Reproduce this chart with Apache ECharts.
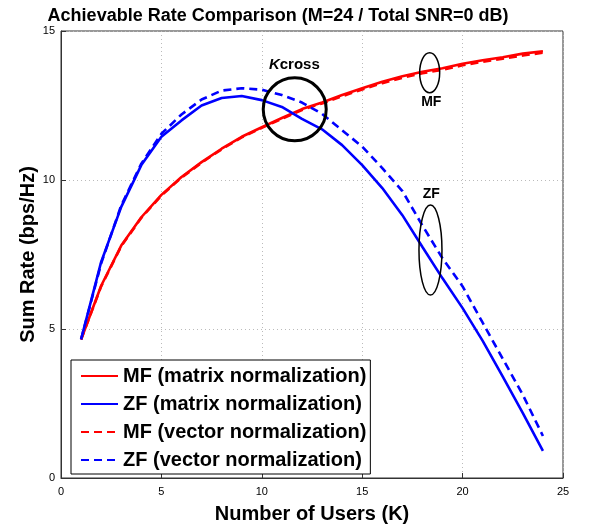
<!DOCTYPE html>
<html>
<head>
<meta charset="utf-8">
<script src="https://cdn.jsdelivr.net/npm/echarts@6/dist/echarts.min.js"></script>
<style>html,body{margin:0;padding:0;background:#fff;}#c{width:591px;height:529px;}</style>
</head>
<body>
<div id="c"></div>
<script>
const users = [1,2,3,4,5,6,7,8,9,10,11,12,13,14,15,16,17,18,19,20,21,22,23,24];
const mfMatrix = [4.65,6.45,7.8,8.75,9.5,10.1,10.6,11.05,11.45,11.77,12.08,12.38,12.6,12.85,13.08,13.3,13.48,13.63,13.75,13.9,14.02,14.12,14.24,14.32];
const zfMatrix = [4.65,7.25,9.1,10.5,11.45,12.0,12.5,12.75,12.82,12.68,12.45,12.05,11.7,11.17,10.5,9.73,8.82,7.75,6.7,5.7,4.6,3.4,2.18,0.91];
const mfVector = [4.65,6.43,7.78,8.73,9.48,10.08,10.58,11.03,11.43,11.75,12.05,12.35,12.57,12.81,13.04,13.25,13.43,13.58,13.7,13.85,13.97,14.07,14.18,14.27];
const zfVector = [4.65,7.2,9.15,10.55,11.55,12.2,12.7,13.0,13.08,13.03,12.85,12.6,12.22,11.67,11.12,10.4,9.63,8.47,7.37,6.43,5.21,4.0,2.79,1.41];
const xTicks = [0,5,10,15,20,25];
const yTicks = [0,5,10,15];
const seriesNames = ['MF (matrix normalization)','ZF (matrix normalization)','MF (vector normalization)','ZF (vector normalization)'];
// annotation anchors in data coordinates
const kcrossCenter = [11.64, 12.37];
const kcrossLabel = [11.62, 13.88];
const mfEllipse = [18.36, 13.6];
const mfLabel = [18.44, 12.62];
const zfEllipse = [18.4, 7.65];
const zfLabel = [18.44, 9.52];

const pairs = arr => users.map((u,i)=>[u,arr[i]]);
const FONT = 'Liberation Sans, Arial, sans-serif';
const chart = echarts.init(document.getElementById('c'));
function mk(name, data, color, dashed){
  return {name, type:'line', data: pairs(data), symbol:'none', showSymbol:false, smooth:false,
    lineStyle:{color, width:2.6, type: dashed ? [8,5] : 'solid'}, itemStyle:{color}, animation:false};
}
chart.setOption({
  animation:false,
  title:{text:'Achievable Rate Comparison (M=24 / Total SNR=0 dB)', left:273, textAlign:'center', top:2,
    textStyle:{fontFamily:FONT, fontWeight:'bold', fontSize:18, color:'#000'}},
  grid:{left:61, right:28, top:31, bottom:45, show:true, borderColor:'#333', borderWidth:1, backgroundColor:'#fff'},
  legend:{orient:'vertical', left:71, top:360, data:seriesNames, itemWidth:37, itemHeight:14, itemGap:6,
    padding:[5,4,3,9], backgroundColor:'#fff', borderColor:'#000', borderWidth:1, borderRadius:0,
    itemStyle:{opacity:0},
    textStyle:{fontFamily:FONT, fontWeight:'bold', fontSize:20, color:'#000', lineHeight:22}},
  xAxis:{type:'value', min:xTicks[0], max:xTicks[xTicks.length-1], interval:5,
    name:'Number of Users (K)', nameLocation:'middle', nameGap:26,
    nameTextStyle:{fontFamily:FONT, fontWeight:'bold', fontSize:20, color:'#000'},
    axisLine:{show:true, lineStyle:{color:'#333'}}, axisTick:{show:true, inside:true, length:5, lineStyle:{color:'#333'}},
    axisLabel:{fontFamily:FONT, fontSize:11, color:'#000', margin:8},
    splitLine:{show:true, lineStyle:{color:'#bbb', type:[1,3]}}},
  yAxis:{type:'value', min:yTicks[0], max:yTicks[yTicks.length-1], interval:5,
    name:'Sum Rate (bps/Hz)', nameLocation:'middle', nameGap:23, nameMoveOverlap:false,
    nameTextStyle:{fontFamily:FONT, fontWeight:'bold', fontSize:20, color:'#000'},
    axisLine:{show:true, lineStyle:{color:'#333'}}, axisTick:{show:true, inside:true, length:5, lineStyle:{color:'#333'}},
    axisLabel:{fontFamily:FONT, fontSize:11, color:'#000', margin:6},
    splitLine:{show:true, lineStyle:{color:'#bbb', type:[1,3]}}},
  series:[
    mk(seriesNames[0], mfMatrix, '#f00', false),
    mk(seriesNames[1], zfMatrix, '#00f', false),
    mk(seriesNames[2], mfVector, '#f00', true),
    mk(seriesNames[3], zfVector, '#00f', true)
  ]
});
const P = d => chart.convertToPixel({gridIndex:0}, d);
const kc = P(kcrossCenter), kl = P(kcrossLabel), me = P(mfEllipse), ml = P(mfLabel), ze = P(zfEllipse), zl = P(zfLabel);
chart.setOption({graphic:[
  {type:'circle', shape:{cx:kc[0], cy:kc[1], r:31.5}, style:{fill:'none', stroke:'#000', lineWidth:3}, z:100},
  {type:'text', x:kl[0], y:kl[1], style:{text:'{i|K}{b|cross}', align:'center', verticalAlign:'middle',
    rich:{i:{fontFamily:FONT, fontStyle:'italic', fontWeight:'bold', fontSize:15, fill:'#000'},
          b:{fontFamily:FONT, fontWeight:'bold', fontSize:15, fill:'#000'}}}, z:100},
  {type:'ellipse', shape:{cx:me[0], cy:me[1], rx:10, ry:20}, style:{fill:'none', stroke:'#000', lineWidth:1.5}, z:100},
  {type:'text', x:ml[0], y:ml[1], style:{text:'MF', align:'center', verticalAlign:'middle', fontFamily:FONT, fontWeight:'bold', fontSize:14, fill:'#000'}, z:100},
  {type:'ellipse', shape:{cx:ze[0], cy:ze[1], rx:11.5, ry:45}, style:{fill:'none', stroke:'#000', lineWidth:1.5}, z:100},
  {type:'text', x:zl[0], y:zl[1], style:{text:'ZF', align:'center', verticalAlign:'middle', fontFamily:FONT, fontWeight:'bold', fontSize:14, fill:'#000'}, z:100}
]});
</script>
</body>
</html>
